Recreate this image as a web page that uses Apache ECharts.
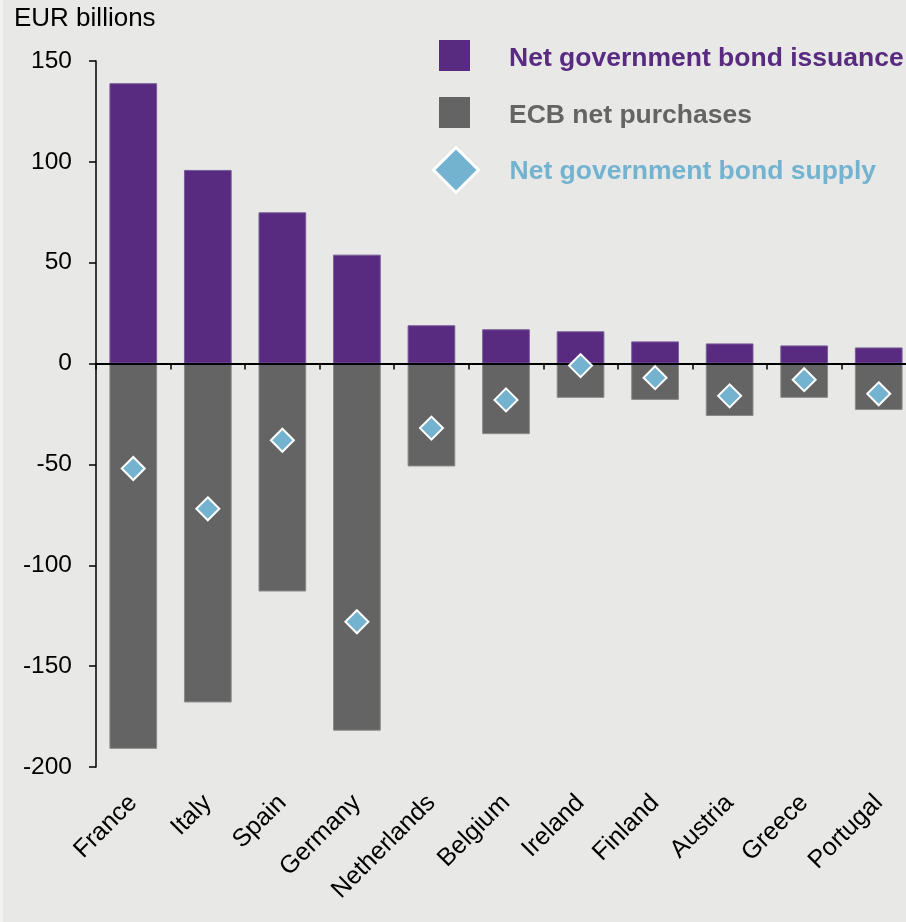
<!DOCTYPE html>
<html>
<head>
<meta charset="utf-8">
<script src="https://cdn.jsdelivr.net/npm/echarts@6/dist/echarts.min.js"></script>
<style>
  html, body { margin: 0; padding: 0; background: #e8e8e6; }
  #chart { width: 906px; height: 922px; }
</style>
</head>
<body>
<div id="chart"></div>
<script>
// Euro-area countries, largest issuers first
const categories = ['France', 'Italy', 'Spain', 'Germany', 'Netherlands', 'Belgium', 'Ireland', 'Finland', 'Austria', 'Greece', 'Portugal'];
// EUR billions
const issuance = [139, 96, 75, 54, 19, 17, 16, 11, 10, 9, 8];
const ecbPurchases = [-191, -168, -113, -182, -51, -35, -17, -18, -26, -17, -23];
const netSupply = [-52, -72, -38, -128, -32, -18, -1, -7, -16, -8, -15];
// value axis range and step
const yMin = -200, yMax = 150, yStep = 50;

const PURPLE = '#582a80';
const GREY = '#646464';
const BLUE = '#74b3cf';
const FONT = 'Liberation Sans, Arial, sans-serif';

const chart = echarts.init(document.getElementById('chart'), null, { renderer: 'canvas' });

// one legend block per entry, each with its own icon size;
// the label sits a little low against its swatch
function legendEntry(left, top, size, entry, color, gap, lineHeight) {
  return {
    orient: 'vertical',
    selectedMode: false,
    padding: 0,
    left: left,
    top: top,
    itemWidth: size,
    itemHeight: size,
    data: [entry],
    formatter: '{t|{name}}',
    textStyle: {
      padding: [0, 0, 0, gap],
      rich: {
        t: {
          fontFamily: FONT, fontSize: 26.5, fontWeight: 'bold', color: color,
          lineHeight: lineHeight, verticalAlign: 'bottom'
        }
      }
    }
  };
}

chart.setOption({
  animation: false,
  backgroundColor: '#e8e8e6',
  graphic: [
    // light frame strip on the left edge of the panel
    { type: 'rect', left: 0, top: 0, shape: { width: 3, height: 922 }, style: { fill: '#f2f2f1' }, silent: true }
  ],
  title: {
    text: 'EUR billions',
    left: 14,
    top: 6,
    padding: 0,
    textStyle: { fontFamily: FONT, fontSize: 26, fontWeight: 'normal', color: '#000' }
  },
  legend: [
    legendEntry(439, 40, 31,
      { name: 'Net government bond issuance', icon: 'rect', itemStyle: { color: PURPLE, borderWidth: 0 } },
      PURPLE, 34, 34),
    legendEntry(439, 97, 31,
      { name: 'ECB net purchases', icon: 'rect', itemStyle: { color: GREY, borderWidth: 0 } },
      GREY, 34, 34),
    legendEntry(432, 146, 45,
      { name: 'Net government bond supply', icon: 'diamond', itemStyle: { color: BLUE, borderColor: '#fff', borderWidth: 3 } },
      BLUE, 26, 30)
  ],
  grid: { left: 96, top: 61, right: -10, bottom: 155, outerBoundsMode: 'none', containLabel: false },
  xAxis: [
    {
      // category labels along the bottom
      type: 'category',
      data: categories,
      position: 'bottom',
      axisLine: { show: false, onZero: false },
      axisTick: { show: false },
      axisLabel: { interval: 0, rotate: 45, margin: 32, fontFamily: FONT, fontSize: 25, color: '#000' }
    },
    {
      // zero line with category dividers
      type: 'category',
      data: categories,
      position: 'top',
      z: 3,
      axisLine: { show: true, onZero: true, lineStyle: { color: '#000', width: 2 } },
      axisTick: { show: true, interval: 0, inside: true, length: 6, lineStyle: { color: '#000', width: 1.5 } },
      axisLabel: { show: false },
      splitLine: { show: false }
    }
  ],
  yAxis: {
    type: 'value',
    min: yMin,
    max: yMax,
    interval: yStep,
    axisLine: { show: true, lineStyle: { color: '#000', width: 1.5 } },
    axisTick: { show: true, length: 7, lineStyle: { color: '#000', width: 1.5 } },
    axisLabel: { margin: 24, fontFamily: FONT, fontSize: 24.5, color: '#000' },
    splitLine: { show: false }
  },
  series: [
    {
      name: 'Net government bond issuance',
      type: 'bar',
      stack: 'flows',
      data: issuance,
      barCategoryGap: '36%',
      itemStyle: { color: PURPLE, borderColor: '#7a5c98', borderWidth: 1 }
    },
    {
      name: 'ECB net purchases',
      type: 'bar',
      stack: 'flows',
      data: ecbPurchases,
      barCategoryGap: '36%',
      itemStyle: { color: GREY, borderColor: '#8a8a8a', borderWidth: 1 }
    },
    {
      name: 'Net government bond supply',
      type: 'scatter',
      z: 4,
      data: netSupply,
      symbol: 'diamond',
      symbolSize: 23,
      itemStyle: { color: BLUE, borderColor: '#fff', borderWidth: 2, opacity: 1 }
    }
  ]
});
</script>
</body>
</html>
